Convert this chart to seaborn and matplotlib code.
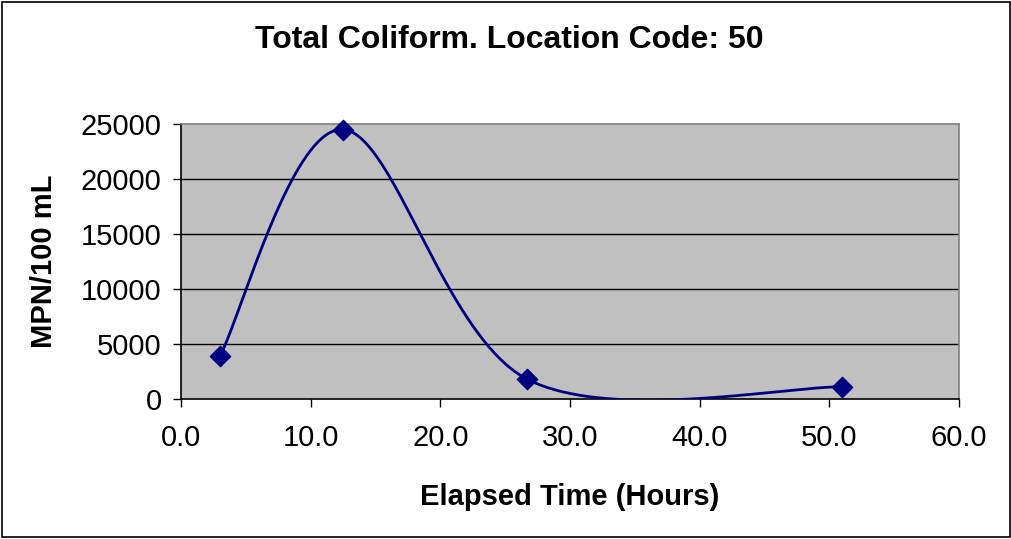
import numpy as np
import pandas as pd
import matplotlib
matplotlib.use("Agg")
import matplotlib.pyplot as plt
import seaborn as sns

# Sample data
hours = [3.0, 12.5, 26.7, 51.0]
mpn = [3900, 24500, 1800, 1100]
x_ticks = [0, 10, 20, 30, 40, 50, 60]
y_ticks = [0, 5000, 10000, 15000, 20000, 25000]


def smooth_curve(xs, ys, n=80):
    """Bezier smoothing through every point (tangent = neighbour chord / 6)."""
    pts = np.column_stack([xs, ys]).astype(float)
    ext = np.vstack([pts[0], pts, pts[-1]])
    out = []
    t = np.linspace(0, 1, n)[:, None]
    for i in range(len(pts) - 1):
        p0 = ext[i + 1]
        p3 = ext[i + 2]
        c1 = p0 + (ext[i + 2] - ext[i]) / 6.0
        c2 = p3 - (ext[i + 3] - ext[i + 1]) / 6.0
        seg = ((1 - t) ** 3) * p0 + 3 * ((1 - t) ** 2) * t * c1 \
            + 3 * (1 - t) * t ** 2 * c2 + t ** 3 * p3
        out.append(seg if i == 0 else seg[1:])
    out = np.vstack(out)
    return out[:, 0], out[:, 1]


sns.set_theme(style="white")
plt.rcParams["font.family"] = ["Liberation Sans", "DejaVu Sans"]
plt.rcParams["text.color"] = "black"
plt.rcParams["axes.labelcolor"] = "black"
plt.rcParams["xtick.color"] = "black"
plt.rcParams["ytick.color"] = "black"

fig = plt.figure(figsize=(10.12, 5.39), dpi=100)
W, H = 1012, 539
ax = fig.add_axes([181 / W, 1 - 399 / H, (959 - 181) / W, (399 - 124) / H])
ax.set_facecolor("#C0C0C0")

cx, cy = smooth_curve(hours, mpn)
curve = pd.DataFrame({"x": cx, "y": cy, "k": np.arange(len(cx))})
pts = pd.DataFrame({"x": hours, "y": mpn})

for yv in y_ticks[1:-1]:
    ax.axhline(yv, color="black", lw=1, zorder=1)

sns.lineplot(data=curve, x="x", y="y", sort=False, estimator=None,
             color="#000080", lw=2, ax=ax, zorder=3)
sns.scatterplot(data=pts, x="x", y="y", marker="D", s=110, color="#000080",
                edgecolor="#000080", ax=ax, zorder=4, clip_on=False)

ax.set_xlim(0, 60)
ax.set_ylim(0, 25000)
ax.set_xticks(x_ticks)
ax.set_xticklabels([f"{v:.1f}" for v in x_ticks])
ax.set_yticks(y_ticks)
ax.set_yticklabels([str(v) for v in y_ticks])
ax.tick_params(axis="both", which="major", labelsize=21, direction="out",
               length=6, width=1, color="black", labelcolor="black",
               bottom=True, left=True)
ax.tick_params(axis="x", pad=12)
ax.tick_params(axis="y", pad=8)

for side in ["left", "bottom"]:
    ax.spines[side].set_color("black")
    ax.spines[side].set_linewidth(1.2)
for side in ["top", "right"]:
    ax.spines[side].set_color("#808080")
    ax.spines[side].set_linewidth(1.2)

ax.set_xlabel("Elapsed Time (Hours)", fontsize=21, fontweight="bold",
              labelpad=22, color="black")
ax.set_ylabel("MPN/100 mL", fontsize=21, fontweight="bold", labelpad=16,
              color="black")

fig.text(509 / W, 1 - 40 / H, "Total Coliform. Location Code: 50",
         fontsize=23, fontweight="bold", ha="center", va="center",
         color="black")

fig.patches.append(plt.Rectangle((2 / W, 2 / H), 1 - 4 / W, 1 - 4 / H,
                                 transform=fig.transFigure, fill=False,
                                 edgecolor="black", lw=1.2))

fig.savefig("out.png", dpi=100)
